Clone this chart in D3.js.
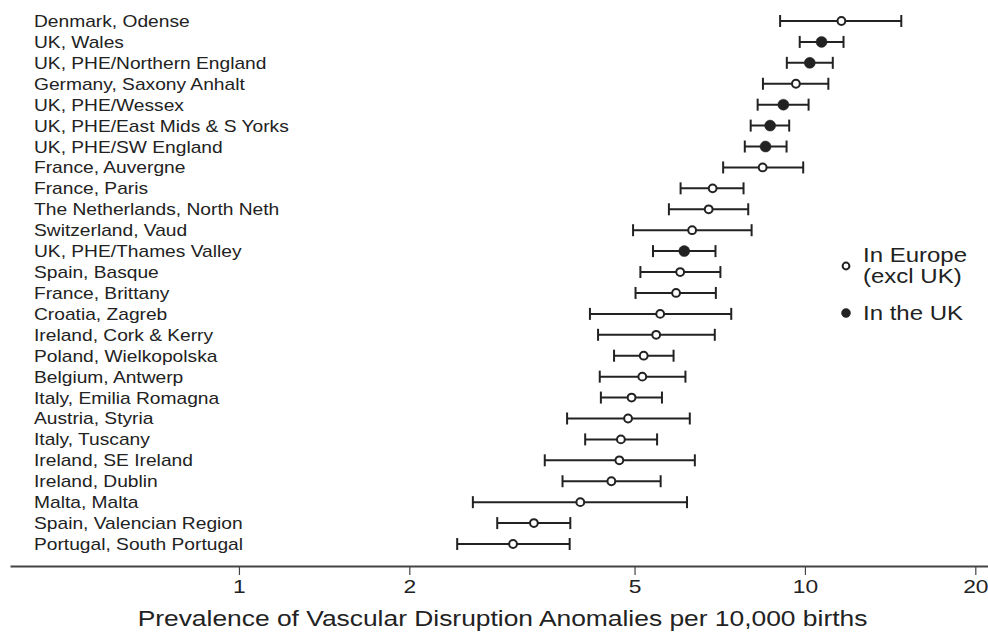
<!DOCTYPE html>
<html>
<head>
<meta charset="utf-8">
<script src="https://cdn.jsdelivr.net/npm/d3@7"></script>
<style>
  body { margin: 0; background: #fff; }
  text { font-family: "Liberation Sans", Arial, sans-serif; fill: #222; }
</style>
</head>
<body>
<svg id="chart" width="988" height="632"></svg>
<script>
const regions = [
  "Denmark, Odense", "UK, Wales", "UK, PHE/Northern England", "Germany, Saxony Anhalt",
  "UK, PHE/Wessex", "UK, PHE/East Mids & S Yorks", "UK, PHE/SW England", "France, Auvergne",
  "France, Paris", "The Netherlands, North Neth", "Switzerland, Vaud", "UK, PHE/Thames Valley",
  "Spain, Basque", "France, Brittany", "Croatia, Zagreb", "Ireland, Cork & Kerry",
  "Poland, Wielkopolska", "Belgium, Antwerp", "Italy, Emilia Romagna", "Austria, Styria",
  "Italy, Tuscany", "Ireland, SE Ireland", "Ireland, Dublin", "Malta, Malta",
  "Spain, Valencian Region", "Portugal, South Portugal"
];
const prevalence = [11.6, 10.7, 10.2, 9.64, 9.16, 8.68, 8.52, 8.42, 6.87, 6.76, 6.32, 6.12, 6.02,
  5.92, 5.55, 5.46, 5.19, 5.16, 4.94, 4.87, 4.73, 4.70, 4.55, 4.01, 3.32, 3.05];
const lower = [9.04, 9.79, 9.29, 8.43, 8.25, 8.02, 7.83, 7.17, 6.03, 5.75, 4.97, 5.39, 5.12,
  5.02, 4.17, 4.31, 4.60, 4.34, 4.36, 3.80, 4.09, 3.47, 3.73, 2.59, 2.86, 2.43];
const upper = [14.8, 11.7, 11.2, 11.0, 10.15, 9.38, 9.28, 9.93, 7.79, 7.94, 8.05, 6.95, 7.09,
  6.96, 7.41, 6.93, 5.86, 6.15, 5.59, 6.26, 5.48, 6.39, 5.56, 6.19, 3.85, 3.84];
const inUK = [false, true, true, false, true, true, true, false, false, false, false, true, false,
  false, false, false, false, false, false, false, false, false, false, false, false, false];
const tickValues = [1, 2, 5, 10, 20];
const legendItems = [
  { lines: ["In Europe", "(excl UK)"], uk: false },
  { lines: ["In the UK"], uk: true }
];

const rows = regions.map((r, i) => ({
  region: r, est: prevalence[i], lo: lower[i], hi: upper[i], uk: inUK[i]
}));

const svg = d3.select("#chart");
const ink = "#222";
const stretch = 1.2;

const x = d3.scaleLog().domain([0.394, 21.06]).range([10, 988]);
const y = d3.scalePoint().domain(regions).range([21, 544]);

// labels
svg.append("g").selectAll("text")
  .data(rows)
  .join("text")
  .attr("transform", d => `translate(34,${y(d.region) + 6}) scale(${stretch},1)`)
  .attr("font-size", 16)
  .text(d => d.region);

// error bars
const bars = svg.append("g")
  .attr("stroke", ink)
  .attr("stroke-width", 2);

bars.selectAll(".ci")
  .data(rows)
  .join("line")
  .attr("class", "ci")
  .attr("x1", d => x(d.lo))
  .attr("x2", d => x(d.hi))
  .attr("y1", d => y(d.region))
  .attr("y2", d => y(d.region));

bars.selectAll(".cap-lo")
  .data(rows)
  .join("line")
  .attr("class", "cap-lo")
  .attr("x1", d => x(d.lo)).attr("x2", d => x(d.lo))
  .attr("y1", d => y(d.region) - 6).attr("y2", d => y(d.region) + 6);

bars.selectAll(".cap-hi")
  .data(rows)
  .join("line")
  .attr("class", "cap-hi")
  .attr("x1", d => x(d.hi)).attr("x2", d => x(d.hi))
  .attr("y1", d => y(d.region) - 6).attr("y2", d => y(d.region) + 6);

// points
svg.append("g").selectAll("circle")
  .data(rows)
  .join("circle")
  .attr("cx", d => x(d.est))
  .attr("cy", d => y(d.region))
  .attr("r", d => d.uk ? 5.5 : 3.9)
  .attr("fill", d => d.uk ? ink : "#fff")
  .attr("stroke", ink)
  .attr("stroke-width", d => d.uk ? 0.5 : 2);

// x axis
const axis = svg.append("g")
  .attr("transform", "translate(0,566)")
  .call(d3.axisBottom(x).tickValues(tickValues).tickFormat(d3.format("d")).tickSize(9).tickSizeOuter(0).tickPadding(5));
axis.select(".domain").attr("stroke", "#444").attr("stroke-width", 2);
axis.selectAll(".tick line").attr("stroke", "#444").attr("stroke-width", 1.2);
axis.selectAll(".tick text")
  .attr("font-size", 19)
  .attr("fill", ink)
  .attr("font-family", "Liberation Sans, Arial, sans-serif")
  .attr("transform", `scale(${stretch},1)`)
  .attr("x", 0);

svg.append("text")
  .attr("transform", `translate(${(138 + 867) / 2},626) scale(${stretch},1)`)
  .attr("text-anchor", "middle")
  .attr("font-size", 22)
  .text("Prevalence of Vascular Disruption Anomalies per 10,000 births");

// legend
const legend = svg.append("g");
legendItems.forEach((item, i) => {
  const cy = i === 0 ? 266 : 313;
  legend.append("circle")
    .attr("cx", 846).attr("cy", cy)
    .attr("r", item.uk ? 4.5 : 3.4)
    .attr("fill", item.uk ? ink : "#fff")
    .attr("stroke", ink)
    .attr("stroke-width", item.uk ? 0.5 : 2);
  item.lines.forEach((line, j) => {
    legend.append("text")
      .attr("transform", `translate(863,${(i === 0 ? 262 : 320) + j * 21}) scale(${stretch},1)`)
      .attr("font-size", 20)
      .text(line);
  });
});
</script>
</body>
</html>
